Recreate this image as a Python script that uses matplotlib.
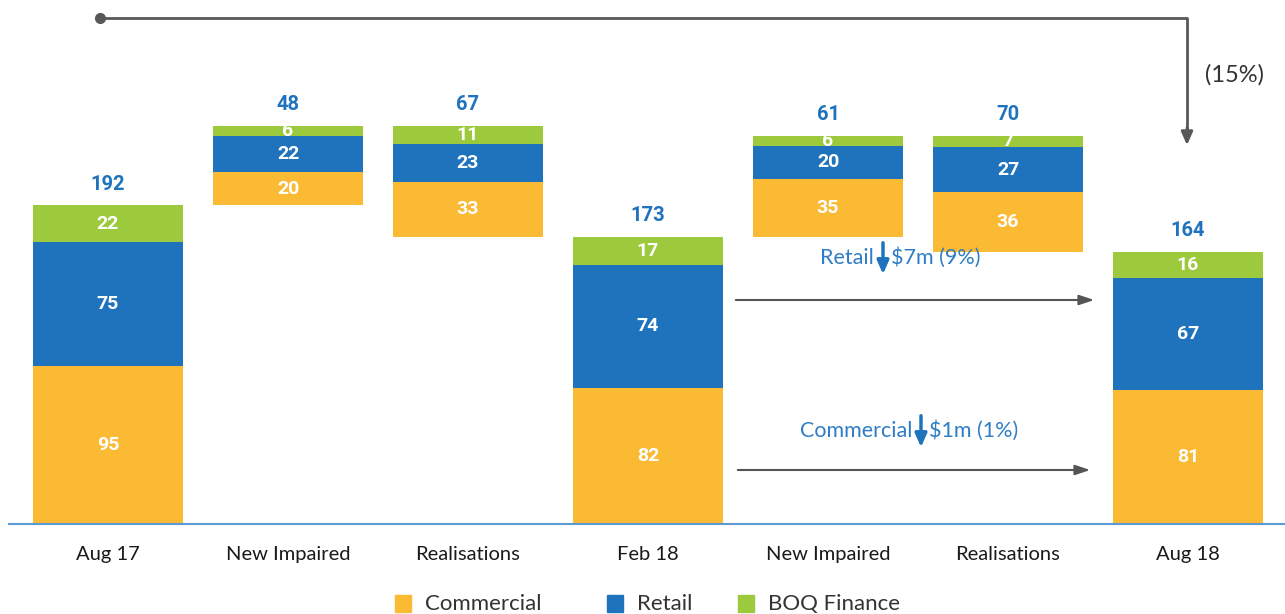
import matplotlib
matplotlib.use("Agg")
import matplotlib.pyplot as plt
from matplotlib.lines import Line2D
import numpy as np

categories = ["Aug 17", "New Impaired", "Realisations", "Feb 18", "New Impaired", "Realisations", "Aug 18"]
commercial = [95, 20, 33, 82, 35, 36, 81]
retail = [75, 22, 23, 74, 20, 27, 67]
boq_finance = [22, 6, 11, 17, 6, 7, 16]
kinds = ["total", "up", "down", "total", "up", "down", "total"]
series_names = ["Commercial", "Retail", "BOQ Finance"]

C_COM = "#FBBA34"
C_RET = "#1F73BD"
C_BOQ = "#9CCA3C"
C_TXT = "#1F73BD"

W, H = 1285, 614
fig = plt.figure(figsize=(W / 100, H / 100), dpi=100)
ax = fig.add_axes([0, 90 / H, 1, 524 / H])
scale = 1.66
ax.set_ylim(0, 524 / scale)
x = np.arange(len(categories))
ax.set_xlim(-108 / 180, (W - 108) / 180)

# compute floating bases
totals = [c + r + b for c, r, b in zip(commercial, retail, boq_finance)]
bases = []
running = 0
for i, k in enumerate(kinds):
    if k == "total":
        bases.append(0)
        running = totals[i]
    elif k == "up":
        bases.append(running)
        running = running + totals[i]
    else:
        running = running - totals[i]
        bases.append(running)

width = 0.83
bottom = np.array(bases, dtype=float)
for vals, col in zip([commercial, retail, boq_finance], [C_COM, C_RET, C_BOQ]):
    ax.bar(x, vals, width=width, bottom=bottom, color=col, edgecolor="none", zorder=2)
    for xi, b, v in zip(x, bottom, vals):
        ax.text(xi, b + v / 2, str(v), ha="center", va="center", color="white",
                fontsize=14, fontweight="bold", family="Roboto", zorder=3)
    bottom = bottom + np.array(vals)

for xi, top, t in zip(x, bottom, totals):
    ax.annotate(str(t), (xi, top), xytext=(0, 15), textcoords="offset points",
                ha="center", va="center", color=C_TXT, fontsize=14.5,
                fontweight="bold", family="Roboto")

for s in ax.spines.values():
    s.set_visible(False)
ax.set_yticks([])
ax.set_xticks([])

# x labels
for xi, lab in zip(x, categories):
    ax.annotate(lab, (xi, 0), xytext=(0, -22), textcoords="offset points",
                ha="center", va="center", fontsize=14.5, color="#1a1a1a", family="Lato")

def fp(px, py):
    return (px / W, 1 - py / H)

# baseline
fig.add_artist(Line2D([9 / W, 1], [1 - 524 / H] * 2, color="#5B9BD5", lw=1.5,
                      transform=fig.transFigure, zorder=1))

# top bracket arrow
fig.add_artist(Line2D([100 / W, 1187 / W, 1187 / W], [1 - 18 / H, 1 - 18 / H, 1 - 135 / H],
                      color="#58585A", lw=2, transform=fig.transFigure))
fig.add_artist(Line2D([100 / W], [1 - 18 / H], marker="o", markersize=7, color="#58585A",
                      transform=fig.transFigure))
ax.annotate("", xy=fp(1187, 148), xycoords="figure fraction", xytext=fp(1187, 125),
            textcoords="figure fraction",
            arrowprops=dict(arrowstyle="-|>,head_length=0.8,head_width=0.35", color="#58585A", lw=2))
fig.text(*fp(1234, 75), "(15%)", ha="center", va="center", fontsize=17, color="#333333", family="Lato")

# horizontal gray arrows
for (x0, x1, yy) in [(733, 1097, 300), (735, 1093, 470)]:
    ax.annotate("", xy=fp(x1, yy), xycoords="figure fraction", xytext=fp(x0, yy),
                textcoords="figure fraction",
                arrowprops=dict(arrowstyle="-|>,head_length=0.9,head_width=0.3",
                                color="#555555", lw=1.5))

# change annotations
def change_note(label_left, label_right, x_arrow, y_text):
    fig.text(*fp(x_arrow - 9, y_text), label_left, ha="right", va="center",
             fontsize=15.5, color="#2E7DC6", family="Lato")
    fig.text(*fp(x_arrow + 8, y_text), label_right, ha="left", va="center",
             fontsize=15.5, color="#2E7DC6", family="Lato")
    ax.annotate("", xy=fp(x_arrow, y_text + 19), xycoords="figure fraction",
                xytext=fp(x_arrow, y_text - 18), textcoords="figure fraction",
                arrowprops=dict(arrowstyle="-|>,head_length=0.8,head_width=0.35",
                                color="#1F73BD", lw=2.5))

change_note("Retail", "$7m (9%)", 883, 258)
change_note("Commercial", "$1m (1%)", 921, 431)

# legend
leg_items = [(395, 425, series_names[0], C_COM), (607, 637, series_names[1], C_RET),
             (738, 768, series_names[2], C_BOQ)]
for sx, tx, name, col in leg_items:
    fig.add_artist(plt.Rectangle(fp(sx, 612), 16 / W, 17 / H, color=col,
                                 transform=fig.transFigure))
    fig.text(*fp(tx, 604), name, ha="left", va="center", fontsize=16,
             color="#333333", family="Lato")

fig.savefig("out.png", dpi=100)
